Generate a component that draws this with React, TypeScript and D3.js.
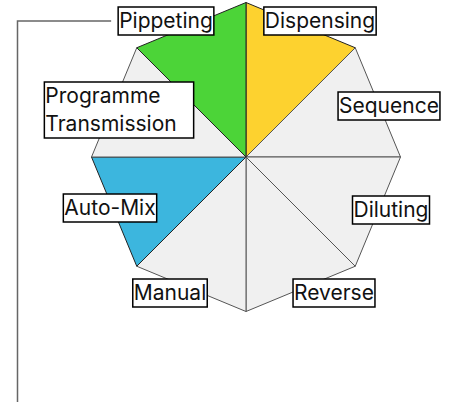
import React, { useEffect, useRef } from 'react';
import * as d3 from 'd3';

// categories clockwise from 12 o'clock
const categories = [
  'Dispensing',
  'Sequence',
  'Diluting',
  'Reverse',
  'Manual',
  'Auto-Mix',
  'Programme Transmission',
  'Pippeting',
];
const values = [1, 1, 1, 1, 1, 1, 1, 1];
const highlights: Record<string, string> = {
  Dispensing: '#fdd22f',
  Pippeting: '#4cd438',
  'Auto-Mix': '#3cb6de',
};

// label box centres relative to the chart centre (layout only)
const labelOffsets: Record<string, [number, number]> = {
  Dispensing: [74, -136],
  Sequence: [143, -51],
  Diluting: [145, 53],
  Reverse: [88, 136],
  Manual: [-76, 136],
  'Auto-Mix': [-136, 51],
  'Programme Transmission': [-127, -47],
  Pippeting: [-80, -136],
};

const W = 454;
const H = 402;

const App = () => {
  const svgRef = useRef<SVGSVGElement>(null);

  useEffect(() => {
    const svg = d3.select(svgRef.current);
    svg.selectAll('*').remove();

    const cx = 246;
    const cy = 157;
    const r = 154.5;

    const data = categories.map((c, i) => ({ name: c, value: values[i] }));
    const arcs = d3.pie<any>().value((d) => d.value).sort(null)(data);

    const g = svg.append('g').attr('transform', `translate(${cx},${cy})`);

    const wedge = d3.lineRadial<[number, number]>().curve(d3.curveLinearClosed);

    g.selectAll('path.wedge')
      .data(arcs)
      .enter()
      .append('path')
      .attr('class', 'wedge')
      .attr('d', (a) =>
        wedge([
          [0, 0],
          [a.startAngle, r],
          [a.endAngle, r],
        ])
      )
      .attr('fill', (a) => highlights[a.data.name] || '#f0f0f0')
      .attr('stroke', (a) => (highlights[a.data.name] ? '#222' : '#555'))
      .attr('stroke-width', 1)
      .attr('stroke-linejoin', 'round');

    // labels
    const labels = svg.append('g');
    const boxes: Record<string, { x: number; y: number; w: number; h: number }> = {};
    categories.forEach((name) => {
      const [dx, dy] = labelOffsets[name];
      const lg = labels.append('g');
      const rect = lg.append('rect');
      const text = lg
        .append('text')
        .attr('font-family', 'Inter, "Noto Sans", sans-serif')
        .attr('font-size', 21)
        .attr('fill', '#111');
      const lines = name === 'Programme Transmission' ? ['Programme', 'Transmission'] : [name];
      const lh = 28;
      const tspans = lines.map((ln, i) =>
        text
          .append('tspan')
          .attr('x', 0)
          .attr('y', cy + dy + (i - (lines.length - 1) / 2) * lh)
          .attr('dy', '0.35em')
          .text(ln)
      );
      const bb = (text.node() as SVGTextElement).getBBox();
      const extra = lines.length > 1 ? 16 : 0;
      const w = bb.width + 2 + extra;
      const h = lines.length * lh;
      const x0 = cx + dx - w / 2;
      const y0 = cy + dy - h / 2;
      tspans.forEach((t) => t.attr('x', x0 + 1 - bb.x));
      rect
        .attr('x', x0)
        .attr('y', y0)
        .attr('width', w)
        .attr('height', h)
        .attr('fill', '#fff')
        .attr('stroke', '#000')
        .attr('stroke-width', 1.5);
      boxes[name] = { x: x0, y: y0, w, h };
    });

    // leader line from the Pippeting label
    const pb = boxes['Pippeting'];
    const lx = 17.5;
    const ly = pb.y + pb.h / 2;
    svg
      .append('path')
      .attr('d', d3.line()([
        [pb.x - 7, ly],
        [lx, ly],
        [lx, H],
      ]))
      .attr('fill', 'none')
      .attr('stroke', '#666')
      .attr('stroke-width', 1.5);
  }, []);

  return (
    <svg
      ref={svgRef}
      width={W}
      height={H}
      style={{ position: 'absolute', left: 0, top: 0, background: '#fff' }}
    />
  );
};

export default App;
